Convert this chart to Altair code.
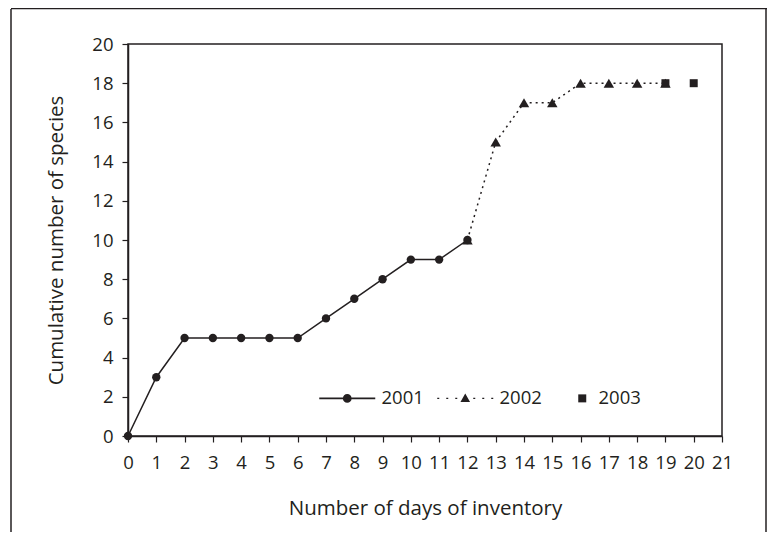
import altair as alt
import pandas as pd

# ---- data ----
years = ["2001", "2002", "2003"]
days_2001 = [0, 1, 2, 3, 4, 5, 6, 7, 8, 9, 10, 11, 12]
species_2001 = [0, 3, 5, 5, 5, 5, 5, 6, 7, 8, 9, 9, 10]
days_2002 = [12, 13, 14, 15, 16, 17, 18, 19]
species_2002 = [10, 15, 17, 17, 18, 18, 18, 18]
days_2003 = [19, 20]
species_2003 = [18, 18]
x_ticks = list(range(0, 22))
y_ticks = list(range(0, 21, 2))

rows = []
for yr, ds, ss in zip(years, [days_2001, days_2002, days_2003],
                      [species_2001, species_2002, species_2003]):
    for d, s in zip(ds, ss):
        rows.append({"day": d, "species": s, "year": yr})
df = pd.DataFrame(rows)

FONT = "Open Sans"
INK = "#231f20"

x = alt.X("day:Q", scale=alt.Scale(domain=[0, 21], nice=False),
          axis=alt.Axis(values=x_ticks, title="Number of days of inventory",
                        titlePadding=27, labelOverlap=False, labelFlush=False))
y = alt.Y("species:Q", scale=alt.Scale(domain=[0, 20], nice=False),
          axis=alt.Axis(values=y_ticks, title="Cumulative number of species",
                        titlePadding=25, labelOverlap=False, labelFlush=False))

base = alt.Chart(df).encode(x=x, y=y)

line01 = base.transform_filter(alt.datum.year == "2001").mark_line(
    color=INK, strokeWidth=1.5)
line02 = base.transform_filter(alt.datum.year == "2002").mark_line(
    color=INK, strokeWidth=1.5, strokeDash=[2, 4])

pts01 = base.transform_filter(alt.datum.year == "2001").mark_point(
    shape="circle", filled=True, color=INK, size=70, opacity=1)
pts02 = base.transform_filter(alt.datum.year == "2002").mark_point(
    shape="triangle-up", filled=True, color=INK, size=110, opacity=1)
pts03 = base.transform_filter(alt.datum.year == "2003").mark_point(
    shape="square", filled=True, color=INK, size=64, opacity=1)

# legend glyphs (fill-only paths, unit = 4px): line+circle, dots+triangle, square
dots = "".join(
    f"M{c - 0.25:.2f},-0.16h0.5v0.32h-0.5Z" for c in [-6.75, -4.5, -2.25, 2.25, 4.5, 6.75]
)
legend_paths = [
    "M-7,-0.19H-1V0.19H-7Z M1,-0.19H7V0.19H1Z "
    "M-1.1,0A1.1,1.1 0 1,1 1.1,0A1.1,1.1 0 1,1 -1.1,0Z",
    dots + "M0,-1.25L1.2,0.9L-1.2,0.9Z",
    "M-1.75,0M3.5,-1H5.5V1H3.5Z",
]
legend_layer = base.mark_point(filled=True, color=INK, size=64, opacity=0).encode(
    shape=alt.Shape("year:N", scale=alt.Scale(domain=years, range=legend_paths),
                    legend=alt.Legend(title=None, orient="none", direction="horizontal",
                                      legendX=210, legendY=345,
                                      labelFont=FONT, labelFontSize=18.5,
                                      labelColor=INK, labelOffset=25,
                                      columnPadding=13,
                                      symbolOpacity=1, symbolFillColor=INK,
                                      symbolStrokeWidth=0,
                                      symbolSize=64)),
)

frame_data = alt.Data(values=[{"a": 1}])
frame_left = alt.Chart(frame_data).mark_rule(color=INK, strokeWidth=1.5).encode(
    x=alt.value(-117), y=alt.value(-35), y2=alt.value(600))
frame_right = alt.Chart(frame_data).mark_rule(color=INK, strokeWidth=1.5).encode(
    x=alt.value(638), y=alt.value(-35), y2=alt.value(600))
frame_top = alt.Chart(frame_data).mark_rule(color=INK, strokeWidth=1.5).encode(
    x=alt.value(-117), x2=alt.value(660), y=alt.value(-35.5))

chart = alt.layer(
    frame_left, frame_right, frame_top,
    line01, line02, legend_layer, pts01, pts02, pts03,
).properties(
    width=594, height=392,
    autosize="none",
    padding={"left": 120, "top": 36, "right": 45, "bottom": 96},
).configure_view(
    stroke=INK, strokeWidth=1.5
).configure_axis(
    grid=False, domainColor=INK, domainWidth=1.5, tickColor=INK, tickWidth=1.2,
    tickSize=6, labelFont=FONT, labelFontSize=18.5, labelColor=INK, labelPadding=11,
    titleFont=FONT, titleFontSize=20.5, titleFontWeight="normal", titleColor=INK,
).configure_axisY(labelPadding=9)

chart.save("out.html", embed_options={"renderer": "svg", "actions": False})
